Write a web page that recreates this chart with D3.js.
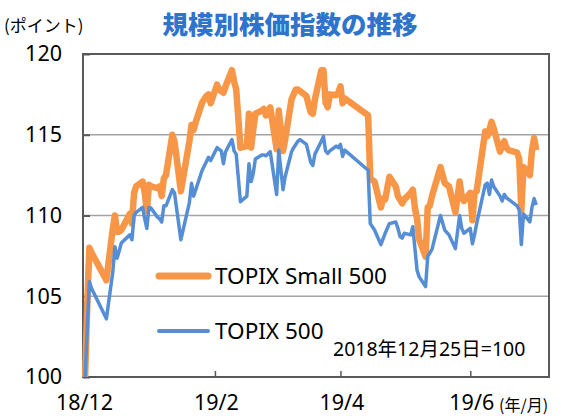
<!DOCTYPE html>
<html><head><meta charset="utf-8">
<script src="https://cdn.jsdelivr.net/npm/d3@7"></script>
<style>html,body{margin:0;padding:0;background:#fff;}svg{display:block;}</style>
</head><body>
<script>
// ---------- data ----------
const titleText = "規模別株価指数の推移";
const yUnitText = "(ポイント)";
const xUnitText = "(年/月)";
const baseNote = "2018年12月25日=100";
const seriesNames = ["TOPIX Small 500", "TOPIX 500"];

const yTicks = [100, 105, 110, 115, 120];
const xTickDates = ["2018-12-24", "2019-02-24", "2019-04-24", "2019-06-24"];
const xTickLabels = ["18/12", "19/2", "19/4", "19/6"];
const xDomain = ["2018-12-24", "2019-07-31"];

const smallDates = ["2018-12-25","2018-12-26","2018-12-27","2018-12-28","2019-01-04","2019-01-07","2019-01-08","2019-01-09","2019-01-10","2019-01-11","2019-01-15","2019-01-16","2019-01-17","2019-01-18","2019-01-21","2019-01-22","2019-01-23","2019-01-24","2019-01-25","2019-01-28","2019-01-29","2019-01-30","2019-01-31","2019-02-01","2019-02-04","2019-02-05","2019-02-08","2019-02-12","2019-02-13","2019-02-14","2019-02-15","2019-02-18","2019-02-19","2019-02-20","2019-02-21","2019-02-22","2019-02-25","2019-02-26","2019-02-27","2019-02-28","2019-03-01","2019-03-04","2019-03-05","2019-03-06","2019-03-08","2019-03-11","2019-03-12","2019-03-13","2019-03-14","2019-03-15","2019-03-18","2019-03-19","2019-03-20","2019-03-22","2019-03-25","2019-03-26","2019-03-28","2019-03-29","2019-04-01","2019-04-02","2019-04-03","2019-04-04","2019-04-05","2019-04-08","2019-04-09","2019-04-10","2019-04-11","2019-04-12","2019-04-15","2019-04-16","2019-04-17","2019-04-18","2019-04-19","2019-04-22","2019-04-23","2019-04-24","2019-04-25","2019-04-26","2019-05-07","2019-05-08","2019-05-09","2019-05-10","2019-05-13","2019-05-14","2019-05-15","2019-05-17","2019-05-20","2019-05-21","2019-05-23","2019-05-24","2019-05-27","2019-05-28","2019-05-29","2019-05-30","2019-05-31","2019-06-03","2019-06-04","2019-06-05","2019-06-06","2019-06-10","2019-06-12","2019-06-14","2019-06-17","2019-06-19","2019-06-20","2019-06-21","2019-06-24","2019-06-25","2019-06-26","2019-06-27","2019-07-01","2019-07-02","2019-07-03","2019-07-04","2019-07-05","2019-07-08","2019-07-09","2019-07-10","2019-07-11","2019-07-12","2019-07-16","2019-07-17","2019-07-18","2019-07-19","2019-07-22","2019-07-23","2019-07-24","2019-07-25"];
const smallValues = [100,104.5,108.0,107.7,106.0,109.2,110.0,109.0,109.0,109.1,110.1,109.5,111.4,111.8,112.1,111.4,110.3,111.9,111.8,111.7,111.8,111.2,112.3,112.5,115.0,114.6,111.5,114.6,115.6,115.3,115.8,117.0,117.2,117.4,117.5,116.95,118.1,117.8,117.7,117.6,118.0,119.0,118.3,117.8,114.2,114.3,116.3,114.2,115.3,116.3,116.5,116.6,116.2,116.7,114.1,116.5,114.0,114.7,117.2,117.5,117.8,117.8,117.7,117.4,116.9,116.4,116.3,117.2,119.0,119.0,117.0,116.7,117.5,117.45,117.6,118.0,116.95,117.25,116.2,112.3,112.2,112.1,110.5,111.05,111.0,112.4,111.8,111.2,110.75,111.0,111.4,111.6,110.45,109.8,108.5,107.45,110.5,110.6,111.2,113.0,112.0,111.8,110.2,112.1,111.2,110.9,111.4,109.7,111.4,111.5,115.2,114.9,115.3,115.8,115.4,113.95,114.3,114.6,114.2,114.05,113.9,113.5,110.3,113.0,112.5,114.0,114.8,114.05];

const t500Dates = ["2018-12-25","2018-12-26","2018-12-27","2018-12-28","2019-01-04","2019-01-07","2019-01-08","2019-01-09","2019-01-10","2019-01-11","2019-01-15","2019-01-16","2019-01-17","2019-01-18","2019-01-21","2019-01-22","2019-01-23","2019-01-24","2019-01-25","2019-01-28","2019-01-29","2019-01-30","2019-01-31","2019-02-01","2019-02-04","2019-02-05","2019-02-08","2019-02-12","2019-02-13","2019-02-14","2019-02-15","2019-02-18","2019-02-21","2019-02-22","2019-02-25","2019-02-26","2019-02-27","2019-02-28","2019-03-01","2019-03-04","2019-03-05","2019-03-06","2019-03-08","2019-03-11","2019-03-12","2019-03-13","2019-03-14","2019-03-15","2019-03-18","2019-03-19","2019-03-20","2019-03-22","2019-03-25","2019-03-26","2019-03-28","2019-03-29","2019-04-01","2019-04-02","2019-04-03","2019-04-04","2019-04-05","2019-04-08","2019-04-10","2019-04-11","2019-04-12","2019-04-15","2019-04-16","2019-04-17","2019-04-18","2019-04-19","2019-04-22","2019-04-23","2019-04-24","2019-04-25","2019-04-26","2019-05-07","2019-05-08","2019-05-09","2019-05-10","2019-05-13","2019-05-15","2019-05-17","2019-05-20","2019-05-21","2019-05-22","2019-05-23","2019-05-24","2019-05-27","2019-05-28","2019-05-30","2019-05-31","2019-06-03","2019-06-04","2019-06-06","2019-06-10","2019-06-12","2019-06-14","2019-06-17","2019-06-19","2019-06-20","2019-06-21","2019-06-24","2019-06-25","2019-06-26","2019-06-27","2019-07-01","2019-07-02","2019-07-03","2019-07-04","2019-07-05","2019-07-08","2019-07-09","2019-07-10","2019-07-11","2019-07-12","2019-07-16","2019-07-17","2019-07-18","2019-07-19","2019-07-22","2019-07-23","2019-07-24","2019-07-25"];
const t500Values = [100,103.0,105.9,105.5,103.6,106.5,108.07,107.35,107.8,108.3,108.8,108.5,110.0,110.2,110.5,109.8,109.2,110.5,110.45,109.9,109.8,109.6,110.6,110.6,111.6,111.4,108.5,110.8,112.0,111.2,111.6,112.8,113.6,113.4,114.2,114.1,114.0,113.2,113.95,114.7,114.0,113.8,110.85,111.2,113.2,112.1,112.6,113.5,113.75,113.75,113.7,113.95,111.3,114.05,111.6,112.4,113.95,114.2,114.4,114.6,114.7,114.4,113.3,113.1,113.8,114.6,114.9,114.0,113.85,114.0,114.3,114.2,114.4,113.65,114.05,112.8,109.5,109.3,109.1,108.2,108.9,109.5,109.6,109.2,108.7,108.6,108.9,108.8,109.3,106.6,106.2,105.6,107.45,107.9,110.0,109.1,108.8,107.95,110.0,109.2,108.9,109.2,108.25,108.8,109.5,111.9,112.0,111.3,112.2,111.8,111.2,110.9,111.3,111.1,111.0,110.6,110.35,108.2,110.1,109.6,110.5,111.05,110.65];

// ---------- drawing ----------
const W = 561, H = 419;
const plot = {left: 83, top: 54, right: 549, bottom: 377};
const parse = d3.utcParse("%Y-%m-%d");
const FONT = "'Noto Sans','Noto Sans CJK JP',sans-serif";
const CJK = "'Noto Sans CJK JP','Noto Sans',sans-serif";

const svg = d3.select("body").append("svg").attr("width", W).attr("height", H)
  .style("font-family", FONT);

const x = d3.scaleUtc().domain(xDomain.map(parse)).range([plot.left, plot.right]);
const y = d3.scaleLinear().domain([100, 120]).range([plot.bottom, plot.top]);

// gridlines
svg.append("g").selectAll("line").data(yTicks.filter(v => v > 100 && v < 120)).join("line")
  .attr("x1", plot.left).attr("x2", plot.right)
  .attr("y1", d => y(d)).attr("y2", d => y(d))
  .attr("stroke", "#a3a3a3").attr("stroke-width", 1.5);

// frame
svg.append("rect").attr("x", plot.left).attr("y", plot.top)
  .attr("width", plot.right - plot.left).attr("height", plot.bottom - plot.top)
  .attr("fill", "none").attr("stroke", "#595959").attr("stroke-width", 2);

// y axis (inward ticks)
const yAxis = d3.axisLeft(y).tickValues(yTicks).tickSize(-7).tickPadding(28).tickFormat(d3.format("d"));
const gy = svg.append("g").attr("transform", `translate(${plot.left},0)`).call(yAxis);
gy.select(".domain").remove();
gy.selectAll(".tick line").attr("stroke", "#595959").attr("stroke-width", 2);
gy.selectAll(".tick text").attr("x", 62 - plot.left).attr("font-size", 21.5).attr("fill", "#000")
  .attr("font-family", FONT);

// x axis (inward ticks)
const xAxis = d3.axisBottom(x).tickValues(xTickDates.map(parse)).tickSize(-6)
  .tickFormat((d, i) => xTickLabels[i]);
const gx = svg.append("g").attr("transform", `translate(0,${plot.bottom})`).call(xAxis);
gx.select(".domain").remove();
gx.selectAll(".tick line").attr("stroke", "#595959").attr("stroke-width", 1.5);
gx.selectAll(".tick text").attr("dy", null).attr("y", 33).attr("x", 1)
  .attr("font-size", 21.5).attr("fill", "#000").attr("font-family", FONT);

// lines
const line = d3.line().x(d => x(d[0])).y(d => y(d[1]));
const smallData = smallDates.map((d, i) => [parse(d), smallValues[i]]);
const t500Data = t500Dates.map((d, i) => [parse(d), t500Values[i]]);

svg.append("path").datum(smallData).attr("d", line)
  .attr("fill", "none").attr("stroke", "#f79646").attr("stroke-width", 6.5)
  .attr("stroke-linejoin", "round");
svg.append("path").datum(t500Data).attr("d", line)
  .attr("fill", "none").attr("stroke", "#558ed5").attr("stroke-width", 3.5)
  .attr("stroke-linejoin", "round");

// legend
const legend = [
  {name: seriesNames[0], color: "#f79646", w: 7, y: 276},
  {name: seriesNames[1], color: "#558ed5", w: 4, y: 331}
];
legend.forEach(l => {
  svg.append("line").attr("x1", 159).attr("x2", 208).attr("y1", l.y).attr("y2", l.y)
    .attr("stroke", l.color).attr("stroke-width", l.w).attr("stroke-linecap", "round");
  svg.append("text").attr("x", 215).attr("y", l.y + 8).attr("font-size", 22.5)
    .attr("fill", "#000").text(l.name);
});

// note
svg.append("text").attr("x", 333).attr("y", 356).attr("font-size", 19.5).attr("fill", "#000").text(baseNote);

// title
svg.append("text").attr("x", 290).attr("y", 34).attr("text-anchor", "middle")
  .attr("font-family", CJK).attr("font-weight", 900).attr("font-size", 25.5)
  .attr("fill", "#2e74cd").text(titleText);

// units
svg.append("text").attr("x", 4).attr("y", 32).attr("font-family", CJK)
  .attr("font-size", 17).attr("fill", "#000").text(yUnitText);
svg.append("text").attr("x", 499).attr("y", 411).attr("font-family", CJK)
  .attr("font-size", 16).attr("fill", "#000").text(xUnitText);
</script>
</body></html>
